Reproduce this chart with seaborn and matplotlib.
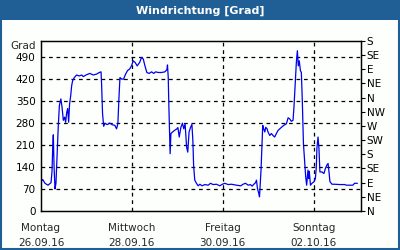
import matplotlib
matplotlib.use("Agg")
import matplotlib.pyplot as plt
from matplotlib.patches import Rectangle
import seaborn as sns
import pandas as pd

# time in hours since Monday 26.09.16 00:00, wind direction in degrees (continuous)
hours = [0.0, 0.9, 2.1, 3.7, 5.3, 5.8, 6.2, 6.5, 6.9, 7.4, 7.9, 8.3, 9.1, 9.7, 10.5, 11.1,
         11.8, 12.5, 13.0, 13.6, 14.1, 14.6, 15.1, 15.7, 16.2, 16.7, 17.6, 18.8, 20.2, 21.5,
         22.3, 24.1, 25.8, 27.6, 29.4, 30.8, 31.7, 32.0, 32.5, 33.1, 33.8, 34.7, 35.3, 35.9,
         36.4, 37.6, 39.0, 39.9, 40.6, 41.1, 41.7, 42.6, 43.6, 44.7, 45.7, 46.8, 47.8, 48.7,
         49.7, 50.8, 52.1, 53.1, 54.0, 54.9, 55.9, 57.1, 58.4, 59.5, 60.5, 61.9, 63.7, 65.4,
         66.5, 66.8, 67.2, 67.5, 67.9, 68.2, 68.6, 69.5, 70.5, 71.6, 72.3, 73.0, 73.9, 74.7,
         75.4, 76.1, 76.9, 77.5, 78.2, 79.0, 79.7, 80.2, 80.6, 81.2, 82.1, 83.0, 83.9, 85.1,
         86.5, 88.3, 89.5, 90.9, 92.7, 94.4, 95.8, 97.1, 98.8, 100.6, 103.2, 105.5, 106.7,
         108.0, 109.4, 110.6, 111.5, 112.4, 113.3, 113.8, 114.3, 115.0, 115.4, 115.7, 116.2,
         116.7, 117.1, 117.6, 118.2, 118.7, 119.4, 119.9, 120.8, 121.7, 122.5, 123.4, 124.3,
         125.2, 126.1, 127.0, 128.2, 129.6, 130.5, 131.3, 132.2, 133.1, 133.6, 134.0, 134.4,
         134.8, 135.0, 135.4, 135.9, 136.4, 137.0, 137.5, 138.0, 138.6, 139.3, 139.8, 140.3,
         141.0, 141.4, 141.7, 142.3, 143.1, 144.2, 144.9, 145.4, 145.7, 146.3, 146.8, 147.3,
         148.4, 149.4, 150.2, 150.9, 151.6, 152.1, 152.6, 153.7, 155.1, 157.7, 160.4, 161.3,
         164.7, 165.6, 167.1]
degrees = [93, 100, 88, 82, 90, 124, 203, 242, 140, 70, 88, 145, 266, 335, 356, 330,
           288, 298, 282, 314, 325, 282, 340, 367, 398, 414, 424, 432, 429, 432,
           427, 433, 437, 432, 435, 440, 442, 404, 310, 269, 279, 275, 275, 279,
           279, 274, 272, 261, 277, 351, 424, 419, 419, 435, 446, 451, 461, 477,
           472, 461, 472, 488, 483, 461, 440, 437, 442, 437, 442, 440, 440, 442,
           449, 464, 424, 340, 256, 182, 246, 251, 256, 260, 265, 235, 266, 279,
           261, 277, 203, 187, 251, 266, 275, 224, 145, 98, 88, 80, 85, 80,
           84, 82, 88, 84, 85, 80, 85, 88, 84, 85, 82, 80, 85,
           88, 82, 84, 79, 85, 90, 98, 72, 56, 45, 77, 130,
           214, 272, 261, 251, 266, 261, 251, 240, 246, 240, 235, 246,
           256, 261, 266, 272, 277, 296, 293, 285, 288, 330, 377, 424,
           466, 483, 509, 461, 477, 446, 440, 351, 214, 151, 108, 82,
           130, 103, 126, 82, 88, 93, 103, 140, 198, 235, 198, 124,
           124, 119, 135, 145, 151, 124, 93, 85, 85, 84, 84, 82,
           82, 88, 88]

left_ticks = [0, 70, 140, 210, 280, 350, 420, 490]
right_ticks = [0, 45, 90, 135, 180, 225, 270, 315, 360, 405, 450, 495, 540]
right_labels = ["N", "NE", "E", "SE", "S", "SW", "W", "NW", "N", "NE", "E", "SE", "S"]
day_ticks = [0, 24, 48, 72, 96, 120, 144, 168]
label_hours = [0, 48, 96, 144]
day_names = ["Montag", "Mittwoch", "Freitag", "Sonntag"]
dates = ["26.09.16", "28.09.16", "30.09.16", "02.10.16"]
title = "Windrichtung [Grad]"

sns.set_theme(style="white")
plt.rcParams['font.family'] = ['DejaVu Sans']

BLUE = "#1f5f96"
fig = plt.figure(figsize=(4, 2.5), dpi=100)
fig.patch.set_facecolor("#fdfffd")

# header bar and frame
fig.add_artist(Rectangle((0, 1 - 20 / 250), 1, 20 / 250, transform=fig.transFigure,
                         facecolor=BLUE, edgecolor="none", zorder=0))
fig.add_artist(Rectangle((0.5 / 400, 1.5 / 250), 1 - 2 / 400, 1 - 2 / 250,
                         transform=fig.transFigure, facecolor="none",
                         edgecolor=BLUE, linewidth=1.5, zorder=0))
fig.text(0.5, 1 - 10.5 / 250, title, color="white", fontsize=8, fontweight="bold",
         ha="center", va="center")

ax = fig.add_axes([41 / 400, 1 - 211 / 250, 320 / 400, 170 / 250])
ax.set_facecolor("#fdfffd")
df = pd.DataFrame({"h": hours, "deg": degrees})
sns.lineplot(data=df, x="h", y="deg", ax=ax, color="#0000ee", linewidth=0.9)

ax.set_xlim(0, 169)
ax.set_ylim(0, 540)
ax.set_xlabel("")
ax.set_ylabel("")

# grid
for v in left_ticks[1:]:
    ax.axhline(v, color="black", linewidth=0.9, linestyle=(0, (3, 3)), zorder=0)
for h in label_hours[1:]:
    ax.axvline(h, color="black", linewidth=0.9, linestyle=(0, (3, 3)), zorder=0)

ax.set_yticks(left_ticks)
ax.set_yticklabels([str(v) for v in left_ticks], fontsize=7.5)
ax.tick_params(axis="y", length=0, pad=4, colors="black")
ax.set_xticks(day_ticks)
ax.set_xticklabels([])
ax.tick_params(axis="x", direction="in", length=3, width=0.8, colors="black")

ax.text(-0.015, 1.0, "Grad", transform=ax.transAxes, ha="right", va="top", fontsize=7.5)

for h, n, d in zip(label_hours, day_names, dates):
    ax.text(h, -0.07, n, transform=ax.get_xaxis_transform(), ha="center", va="top", fontsize=7.5)
    ax.text(h, -0.16, d, transform=ax.get_xaxis_transform(), ha="center", va="top", fontsize=7.5)

ax2 = ax.twinx()
ax2.set_ylim(0, 540)
ax2.set_yticks(right_ticks)
ax2.set_yticklabels(right_labels, fontsize=7.5)
ax2.tick_params(axis="y", direction="out", length=3, width=0.8, pad=1, colors="black")

for a in (ax, ax2):
    for s in a.spines.values():
        s.set_color("black")
        s.set_linewidth(0.9)
    a.spines["top"].set_visible(True)

fig.savefig("out.png", dpi=100, facecolor=fig.get_facecolor())
